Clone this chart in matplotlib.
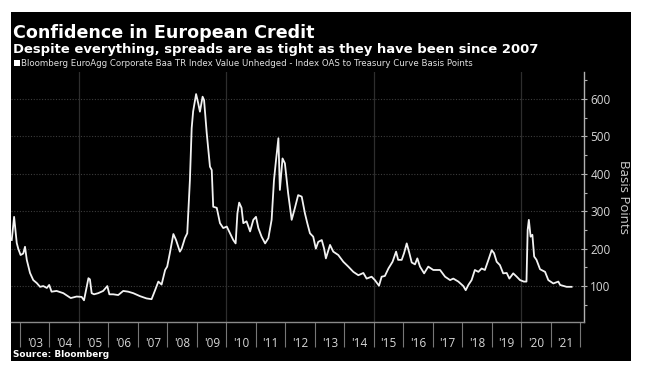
import matplotlib
matplotlib.use("Agg")
import matplotlib.pyplot as plt
from matplotlib.patches import Rectangle
from matplotlib.ticker import FixedLocator, NullFormatter, FixedFormatter

# ---- data ----
years = [2002.72, 2002.80, 2002.89, 2002.94, 2003.02, 2003.11, 2003.17, 2003.23, 2003.34, 2003.45,
         2003.57, 2003.68, 2003.79, 2003.91, 2003.99, 2004.07, 2004.24, 2004.47, 2004.72, 2004.92,
         2005.09, 2005.17, 2005.26, 2005.32, 2005.37, 2005.43, 2005.51, 2005.65, 2005.82, 2005.96,
         2006.03, 2006.16, 2006.33, 2006.50, 2006.67, 2006.84, 2007.07, 2007.29, 2007.46, 2007.58,
         2007.69, 2007.80, 2007.92, 2007.99, 2008.08, 2008.20, 2008.29, 2008.42, 2008.48, 2008.59,
         2008.67, 2008.76, 2008.82, 2008.87, 2008.97, 2009.04, 2009.10, 2009.19, 2009.24, 2009.33,
         2009.44, 2009.50, 2009.55, 2009.67, 2009.78, 2009.89, 2010.01, 2010.12, 2010.23, 2010.31,
         2010.37, 2010.43, 2010.51, 2010.57, 2010.68, 2010.80, 2010.91, 2011.00, 2011.08, 2011.19,
         2011.31, 2011.42, 2011.53, 2011.61, 2011.68, 2011.76, 2011.81, 2011.90, 2011.98, 2012.09,
         2012.21, 2012.32, 2012.43, 2012.55, 2012.66, 2012.74, 2012.83, 2012.94, 2013.03, 2013.11,
         2013.23, 2013.31, 2013.37, 2013.51, 2013.62, 2013.79, 2013.96, 2014.13, 2014.30, 2014.47,
         2014.64, 2014.75, 2014.92, 2015.03, 2015.17, 2015.26, 2015.37, 2015.49, 2015.63, 2015.75,
         2015.82, 2015.94, 2016.02, 2016.11, 2016.20, 2016.28, 2016.39, 2016.47, 2016.56, 2016.70,
         2016.84, 2017.01, 2017.24, 2017.41, 2017.58, 2017.69, 2017.86, 2018.03, 2018.11, 2018.20,
         2018.31, 2018.42, 2018.54, 2018.65, 2018.76, 2018.88, 2018.99, 2019.07, 2019.16, 2019.27,
         2019.38, 2019.50, 2019.59, 2019.72, 2019.84, 2019.95, 2020.08, 2020.17, 2020.21, 2020.25,
         2020.31, 2020.37, 2020.43, 2020.51, 2020.63, 2020.80, 2020.91, 2021.08, 2021.25, 2021.31,
         2021.53, 2021.70]
oas_bp = [223, 285, 215, 200, 183, 187, 205, 170, 135, 116,
          108, 98, 100, 95, 103, 85, 87, 81, 68, 72,
          71, 62, 98, 121, 118, 81, 78, 81, 87, 100,
          78, 78, 76, 87, 85, 81, 73, 67, 65, 89,
          112, 104, 143, 152, 188, 239, 223, 192, 200, 228,
          241, 383, 522, 567, 613, 589, 566, 606, 597, 509,
          419, 410, 312, 309, 268, 255, 259, 241, 223, 214,
          294, 323, 309, 268, 273, 246, 277, 285, 255, 232,
          214, 228, 277, 383, 437, 495, 357, 441, 428, 348,
          277, 309, 343, 339, 294, 268, 241, 232, 200, 218,
          223, 200, 174, 210, 192, 183, 165, 152, 138, 129,
          135, 120, 125, 116, 101, 125, 127, 147, 165, 192,
          170, 170, 188, 214, 188, 163, 158, 174, 152, 134,
          152, 143, 143, 125, 116, 120, 112, 100, 89, 103,
          116, 143, 138, 147, 143, 170, 196, 188, 165, 156,
          134, 135, 120, 134, 125, 116, 112, 112, 250, 277,
          232, 237, 179, 170, 145, 138, 116, 107, 112, 103,
          98, 98]
year_starts = list(range(2003, 2023))
year_labels = ["'03", "'04", "'05", "'06", "'07", "'08", "'09", "'10", "'11", "'12",
               "'13", "'14", "'15", "'16", "'17", "'18", "'19", "'20", "'21"]
y_ticks = [100, 200, 300, 400, 500, 600]
grid_years = [2005, 2010, 2015, 2020]

title = "Confidence in European Credit"
subtitle = "Despite everything, spreads are as tight as they have been since 2007"
legend_text = ("Bloomberg EuroAgg Corporate Baa TR Index Value Unhedged - "
               "Index OAS to Treasury Curve Basis Points")
source = "Source: Bloomberg"
ylabel = "Basis Points"

W, H = 645, 377
fig = plt.figure(figsize=(W / 100, H / 100), dpi=100, facecolor="white")

def fx(px):
    return px / W

def fy(py):
    return 1 - py / H

# black panel
fig.patches.append(Rectangle((fx(11), fy(361)), fx(631) - fx(11), fy(12) - fy(361),
                             transform=fig.transFigure, facecolor="black",
                             edgecolor="none", zorder=-5))

ax = fig.add_axes([fx(11), fy(322), fx(584) - fx(11), fy(72) - fy(322)])
ax.set_zorder(2)
ax.set_facecolor("black")
ax.set_xlim(2002.695, 2022.12)
ax.set_ylim(4, 672)

# grid
for yv in y_ticks:
    ax.axhline(yv, color="#3c3c3c", lw=0.8, ls=(0, (1, 1.5)), zorder=1)
for gx in grid_years:
    ax.axvline(gx, color="#2e2e2e", lw=0.9, zorder=1)

ax.plot(years, oas_bp, color="#f2f2f2", lw=1.3, zorder=3)

for s in ["left", "top"]:
    ax.spines[s].set_visible(False)
ax.spines["right"].set_color("#b0b0b0")
ax.spines["bottom"].set_color("#8a8a8a")
ax.spines["right"].set_linewidth(1.0)
ax.spines["bottom"].set_linewidth(1.0)

# y axis on right
ax.yaxis.tick_right()
ax.set_yticks(y_ticks)
ax.set_yticklabels([str(v) for v in y_ticks])
ax.yaxis.set_minor_locator(FixedLocator([50, 150, 250, 350, 450, 550, 650]))
ax.tick_params(axis="y", which="major", direction="inout", length=5, width=0.8,
               color="#b0b0b0", labelcolor="#d8d8d8", labelsize=8.5, pad=2)
ax.tick_params(axis="y", which="minor", direction="out", length=2.5, width=0.8,
               color="#b0b0b0")

# x axis: separators at year starts, labels centred in each year
ax.xaxis.set_major_locator(FixedLocator(year_starts))
ax.xaxis.set_major_formatter(NullFormatter())
ax.xaxis.set_minor_locator(FixedLocator([y + 0.5 for y in year_starts[:-1]]))
ax.xaxis.set_minor_formatter(FixedFormatter(year_labels))
ax.tick_params(axis="x", which="major", direction="out", length=18, width=0.8,
               color="#777777")
ax.tick_params(axis="x", which="minor", length=0, pad=11, labelcolor="#d8d8d8",
               labelsize=8.5)

for lab in ax.get_yticklabels() + ax.xaxis.get_minorticklabels():
    lab.set_family(["Open Sans", "DejaVu Sans"])

# texts
fig.text(fx(13), fy(38), title, color="white", fontsize=12.6, fontweight="bold",
         family=["DejaVu Sans"], va="baseline", ha="left", zorder=3)
fig.text(fx(13), fy(52.5), subtitle, color="white", fontsize=9.45, fontweight="bold",
         family=["DejaVu Sans"], va="baseline", ha="left", zorder=3)
fig.patches.append(Rectangle((fx(13.5), fy(65.5)), fx(6), fy(59.5) - fy(65.5),
                             transform=fig.transFigure, facecolor="white",
                             edgecolor="none", zorder=3))
fig.text(fx(21), fy(65.5), legend_text, color="#e0e0e0", fontsize=6.25,
         family=["DejaVu Sans"], va="baseline", ha="left", zorder=3)
fig.text(fx(13), fy(357), source, color="white", fontsize=6.4, fontweight="bold",
         family=["DejaVu Sans"], va="baseline", ha="left", zorder=3)
fig.text(fx(623), fy(197), ylabel, color="#d0d0d0", fontsize=9.5, rotation=270,
         family=["Open Sans", "DejaVu Sans"], va="center", ha="center", zorder=3)

fig.savefig("out.png", dpi=100, facecolor="white")
